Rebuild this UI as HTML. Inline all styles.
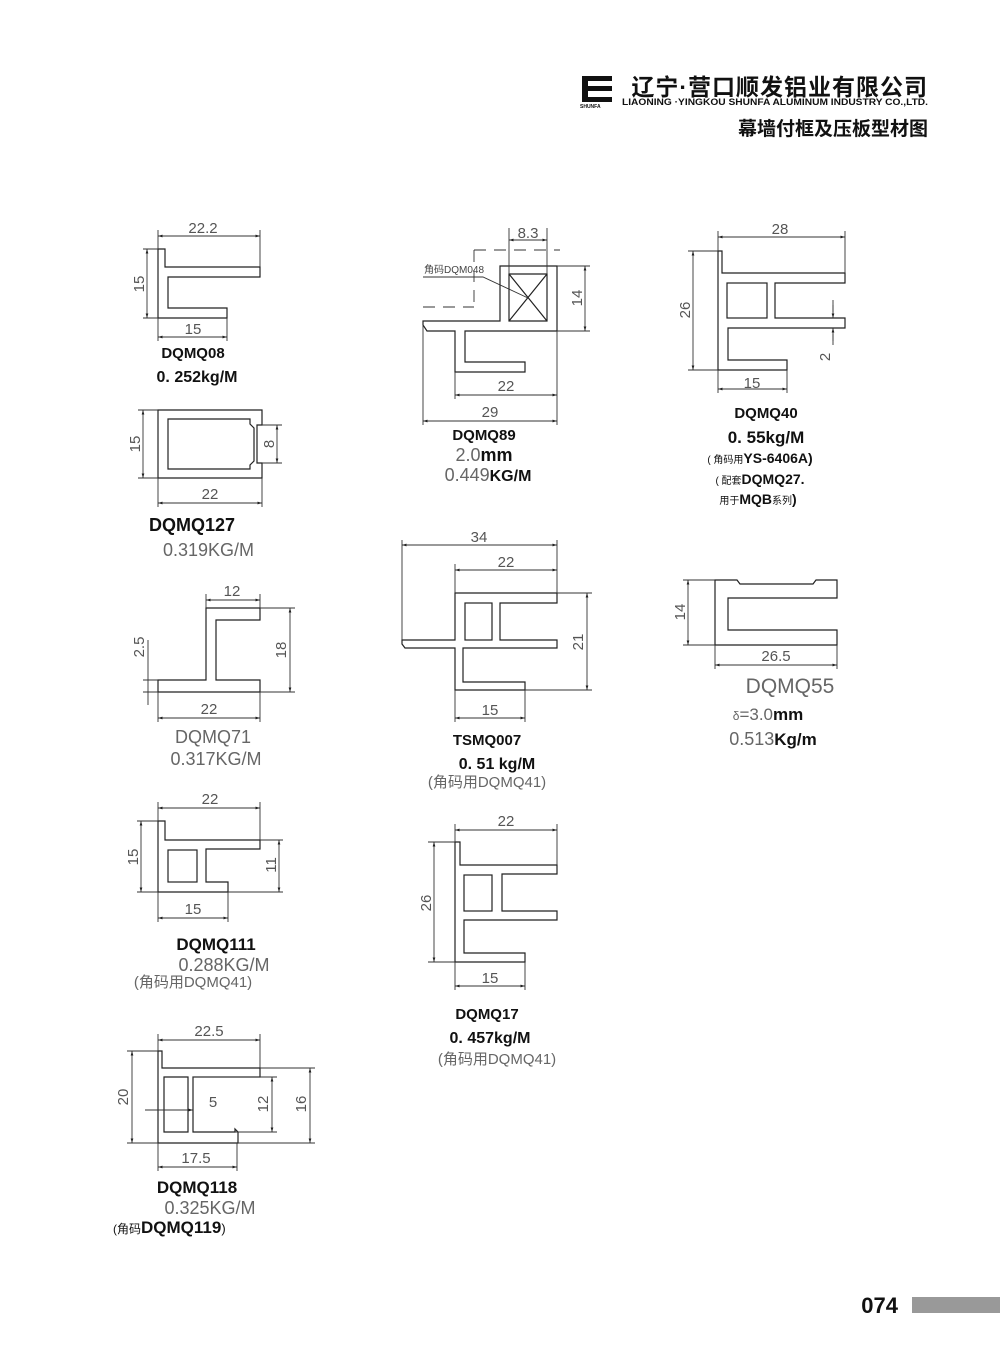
<!DOCTYPE html>
<html><head><meta charset="utf-8"><style>
html,body{margin:0;padding:0;background:#fff;}
svg{display:block;}
.p{fill:none;stroke:#222;stroke-width:1.2;}
.d{stroke:#333;stroke-width:0.9;fill:none;}
.n{font-family:"Liberation Sans",sans-serif;font-size:15px;fill:#555;text-anchor:middle;}
.b{font-family:"Liberation Sans","Noto Sans CJK SC",sans-serif;font-weight:bold;fill:#111;text-anchor:middle;}
.g{font-family:"Liberation Sans","Noto Sans CJK SC",sans-serif;fill:#666;text-anchor:middle;}
</style></head><body>
<svg width="1000" height="1366" viewBox="0 0 1000 1366" xmlns="http://www.w3.org/2000/svg">
<defs>
<marker id="a" viewBox="0 0 10 10" refX="10" refY="5" markerWidth="7" markerHeight="5" orient="auto-start-reverse"><path d="M0,2 L10,5 L0,8 Z" fill="#222"/></marker>
</defs>

<!-- header -->
<g fill="#111">
<rect x="582" y="76" width="30" height="5"/>
<rect x="582" y="76" width="6" height="26"/>
<rect x="588" y="86" width="24" height="5"/>
<rect x="582" y="97" width="30" height="5"/>
</g>
<text x="580" y="108" style="font-family:'Liberation Sans';font-size:5px;font-weight:bold;fill:#111">SHUNFA</text>
<text x="928" y="95" text-anchor="end" style="font-family:'Liberation Sans','Noto Sans CJK SC',sans-serif;font-size:23px;font-weight:bold;fill:#111;letter-spacing:1px">辽宁·营口顺发铝业有限公司</text>
<text x="928" y="105" text-anchor="end" textLength="306" lengthAdjust="spacingAndGlyphs" style="font-family:'Liberation Sans';font-size:9px;font-weight:bold;fill:#111">LIAONING ·YINGKOU SHUNFA ALUMINUM INDUSTRY CO.,LTD.</text>
<text x="928" y="135" text-anchor="end" style="font-family:'Liberation Sans','Noto Sans CJK SC',sans-serif;font-size:19px;font-weight:bold;fill:#111">幕墙付框及压板型材图</text>

<!-- DQMQ08 -->
<path class="p" d="M158,249 L165,249 L165,267 L260,267 L260,277 L168,277 L168,308 L227,308 L227,318 L158,318 Z"/>
<path class="d" d="M158,230 V249 M260,230 V267 M143,249 H158 M143,318 H158 M158,318 V341 M227,318 V341"/>
<line class="d" x1="158" y1="236" x2="260" y2="236" marker-start="url(#a)" marker-end="url(#a)"/>
<line class="d" x1="147" y1="249" x2="147" y2="318" marker-start="url(#a)" marker-end="url(#a)"/>
<line class="d" x1="158" y1="337" x2="227" y2="337" marker-start="url(#a)" marker-end="url(#a)"/>
<text class="n" x="203" y="233">22.2</text>
<text class="n" x="193" y="334">15</text>
<text class="n" transform="translate(144,284) rotate(-90)">15</text>
<text class="b" x="193" y="358" font-size="15">DQMQ08</text>
<text class="b" x="197" y="382" font-size="16">0. 252kg/M</text>

<!-- DQMQ127 -->
<path class="p" d="M158,410 L262,410 L262,425 L257,425 L257,463 L262,463 L262,478 L158,478 Z"/>
<path class="p" d="M168,419 L250,419 L250,424 L254,428 L254,461 L250,465 L250,469 L168,469 Z"/>
<path class="d" d="M138,410 H158 M138,478 H158 M158,478 V507 M262,478 V507 M262,425 H282 M262,463 H282"/>
<line class="d" x1="143" y1="410" x2="143" y2="478" marker-start="url(#a)" marker-end="url(#a)"/>
<line class="d" x1="158" y1="503" x2="262" y2="503" marker-start="url(#a)" marker-end="url(#a)"/>
<line class="d" x1="277" y1="425" x2="277" y2="463" marker-start="url(#a)" marker-end="url(#a)"/>
<text class="n" transform="translate(140,444) rotate(-90)">15</text>
<text class="n" transform="translate(274,444) rotate(-90)">8</text>
<text class="n" x="210" y="499">22</text>
<text class="b" x="149" y="531" font-size="18" text-anchor="start" style="text-anchor:start">DQMQ127</text>
<text class="g" x="163" y="556" font-size="18" style="text-anchor:start">0.319KG/M</text>

<!-- DQMQ71 -->
<path class="p" d="M158,680 L206,680 L206,608 L260,608 L260,620 L216,620 L216,680 L260,680 L260,692 L158,692 Z"/>
<path class="d" d="M206,594 V608 M260,594 V608 M260,608 H295 M260,692 H295 M143,680 H158 M143,692 H158 M158,692 V722 M260,692 V722 M148,640 V705"/>
<line class="d" x1="206" y1="600" x2="260" y2="600" marker-start="url(#a)" marker-end="url(#a)"/>
<line class="d" x1="290" y1="608" x2="290" y2="692" marker-start="url(#a)" marker-end="url(#a)"/>
<line class="d" x1="158" y1="718" x2="260" y2="718" marker-start="url(#a)" marker-end="url(#a)"/>
<text class="n" x="232" y="596">12</text>
<text class="n" transform="translate(286,650) rotate(-90)">18</text>
<text class="n" transform="translate(144,647) rotate(-90)">2.5</text>
<text class="n" x="209" y="714">22</text>
<text class="g" x="213" y="743" font-size="18">DQMQ71</text>
<text class="g" x="216" y="765" font-size="18">0.317KG/M</text>

<!-- DQMQ111 -->
<path class="p" d="M158,821 L165,821 L165,840 L260,840 L260,849 L206,849 L206,882 L228,882 L228,892 L158,892 Z"/>
<rect class="p" x="168" y="850" width="29" height="32"/>
<path class="d" d="M158,802 V821 M260,802 V840 M137,821 H158 M137,892 H158 M260,840 H283 M228,892 H283 M158,892 V922 M228,892 V922"/>
<line class="d" x1="158" y1="808" x2="260" y2="808" marker-start="url(#a)" marker-end="url(#a)"/>
<line class="d" x1="141" y1="821" x2="141" y2="892" marker-start="url(#a)" marker-end="url(#a)"/>
<line class="d" x1="279" y1="840" x2="279" y2="892" marker-start="url(#a)" marker-end="url(#a)"/>
<line class="d" x1="158" y1="918" x2="228" y2="918" marker-start="url(#a)" marker-end="url(#a)"/>
<text class="n" x="210" y="804">22</text>
<text class="n" transform="translate(138,857) rotate(-90)">15</text>
<text class="n" transform="translate(276,865) rotate(-90)">11</text>
<text class="n" x="193" y="914">15</text>
<text class="b" x="216" y="950" font-size="17">DQMQ111</text>
<text class="g" x="224" y="971" font-size="18">0.288KG/M</text>
<text class="g" x="193" y="987" font-size="15">(角码用DQMQ41)</text>

<!-- DQMQ118 -->
<path class="p" d="M158,1051 L162,1051 L162,1068 L260,1068 L260,1077 L193,1077 L193,1132 L235,1132 L235,1129 L238,1132 L238,1143 L158,1143 Z"/>
<path class="p" d="M164,1077 H188 V1132 H164 Z M188,1077 V1132"/>
<path class="d" d="M158,1034 V1051 M260,1034 V1068 M127,1051 H158 M127,1143 H158 M260,1068 H315 M193,1077 H277 M235,1132 H277 M238,1143 H315 M158,1143 V1171 M237,1143 V1171"/>
<line class="d" x1="158" y1="1040" x2="260" y2="1040" marker-start="url(#a)" marker-end="url(#a)"/>
<line class="d" x1="132" y1="1051" x2="132" y2="1143" marker-start="url(#a)" marker-end="url(#a)"/>
<line class="d" x1="145" y1="1110" x2="193" y2="1110" marker-end="url(#a)"/>
<line class="d" x1="272" y1="1077" x2="272" y2="1132" marker-start="url(#a)" marker-end="url(#a)"/>
<line class="d" x1="310" y1="1068" x2="310" y2="1143" marker-start="url(#a)" marker-end="url(#a)"/>
<line class="d" x1="158" y1="1167" x2="237" y2="1167" marker-start="url(#a)" marker-end="url(#a)"/>
<text class="n" x="209" y="1036">22.5</text>
<text class="n" transform="translate(128,1097) rotate(-90)">20</text>
<text class="n" x="213" y="1107">5</text>
<text class="n" transform="translate(268,1104) rotate(-90)">12</text>
<text class="n" transform="translate(306,1104) rotate(-90)">16</text>
<text class="n" x="196" y="1163">17.5</text>
<text class="b" x="197" y="1193" font-size="17">DQMQ118</text>
<text class="g" x="210" y="1214" font-size="18">0.325KG/M</text>
<text class="b" x="113" y="1233" font-size="17" style="text-anchor:start"><tspan font-size="12" font-weight="normal">(角码</tspan>DQMQ119<tspan font-size="13" font-weight="normal">)</tspan></text>

<!-- DQMQ89 -->
<path class="d" stroke-dasharray="12,8" d="M474,250 H560 M474,250 V307 M423,307 H474"/>
<path class="p" d="M423,321 L500,321 L500,266 L557,266 L557,331 L465,331 L465,362 L525,362 L525,372 L455,372 L455,331 L427,331 L423,325 Z"/>
<path class="p" d="M509,274 H547 V321 H509 Z M509,274 L547,321 M547,274 L509,321"/>
<path class="d" d="M509,228 V274 M547,228 V274 M557,266 H590 M557,331 H590 M455,372 V399 M557,331 V425 M423,325 V425 M423,277 H483 L528,298"/>
<line class="d" x1="509" y1="240" x2="547" y2="240" marker-start="url(#a)" marker-end="url(#a)"/>
<line class="d" x1="585" y1="266" x2="585" y2="331" marker-start="url(#a)" marker-end="url(#a)"/>
<line class="d" x1="455" y1="395" x2="557" y2="395" marker-start="url(#a)" marker-end="url(#a)"/>
<line class="d" x1="423" y1="421" x2="557" y2="421" marker-start="url(#a)" marker-end="url(#a)"/>
<text class="n" x="528" y="238">8.3</text>
<text class="n" transform="translate(582,298) rotate(-90)">14</text>
<text class="n" x="506" y="391">22</text>
<text class="n" x="490" y="417">29</text>
<text x="424" y="273" style="font-family:'Liberation Sans','Noto Sans CJK SC',sans-serif;font-size:10px;fill:#444">角码DQM048</text>
<text class="b" x="484" y="440" font-size="15">DQMQ89</text>
<text class="g" x="484" y="461" font-size="18">2.0<tspan font-weight="bold" fill="#111">mm</tspan></text>
<text class="g" x="488" y="481" font-size="18">0.449<tspan font-weight="bold" fill="#111" font-size="16">KG/M</tspan></text>

<!-- DQMQ40 -->
<path class="p" d="M718,251 L722,251 L722,273 L845,273 L845,283 L775,283 L775,318 L845,318 L845,328 L728,328 L728,360 L787,360 L787,370 L718,370 Z"/>
<rect class="p" x="727" y="283" width="40" height="35"/>
<path class="d" d="M718,231 V251 M845,231 V273 M688,251 H718 M688,370 H718 M718,370 V393 M787,370 V393 M833,300 V312 M833,334 V345"/>
<line class="d" x1="718" y1="237" x2="845" y2="237" marker-start="url(#a)" marker-end="url(#a)"/>
<line class="d" x1="693" y1="251" x2="693" y2="370" marker-start="url(#a)" marker-end="url(#a)"/>
<line class="d" x1="718" y1="389" x2="787" y2="389" marker-start="url(#a)" marker-end="url(#a)"/>
<line class="d" x1="833" y1="305" x2="833" y2="318" marker-end="url(#a)"/>
<line class="d" x1="833" y1="341" x2="833" y2="328" marker-end="url(#a)"/>
<text class="n" x="780" y="234">28</text>
<text class="n" transform="translate(690,310) rotate(-90)">26</text>
<text class="n" x="752" y="388">15</text>
<text class="n" transform="translate(830,357) rotate(-90)">2</text>
<text class="b" x="766" y="418" font-size="15">DQMQ40</text>
<text class="b" x="766" y="443" font-size="17">0. 55kg/M</text>
<text class="b" x="760" y="463" font-size="14"><tspan font-size="10" font-weight="normal">( 角码用</tspan>YS-6406A)</text>
<text class="b" x="760" y="484" font-size="14"><tspan font-size="10" font-weight="normal">( 配套</tspan>DQMQ27.</text>
<text class="b" x="758" y="504" font-size="14"><tspan font-size="10" font-weight="normal">用于</tspan>MQB<tspan font-size="10" font-weight="normal">系列</tspan>)</text>

<!-- TSMQ007 -->
<path class="p" d="M455,593 L557,593 L557,603 L500,603 L500,640 L557,640 L557,648 L463,648 L463,682 L525,682 L525,690 L455,690 L455,648 L405,648 L402,644 L402,640 L455,640 Z"/>
<rect class="p" x="465" y="603" width="27" height="37"/>
<path class="d" d="M402,540 V640 M557,540 V593 M455,564 V593 M557,593 H592 M525,690 H592 M455,690 V722 M525,690 V722"/>
<line class="d" x1="402" y1="545" x2="557" y2="545" marker-start="url(#a)" marker-end="url(#a)"/>
<line class="d" x1="455" y1="570" x2="557" y2="570" marker-start="url(#a)" marker-end="url(#a)"/>
<line class="d" x1="587" y1="593" x2="587" y2="690" marker-start="url(#a)" marker-end="url(#a)"/>
<line class="d" x1="455" y1="718" x2="525" y2="718" marker-start="url(#a)" marker-end="url(#a)"/>
<text class="n" x="479" y="542">34</text>
<text class="n" x="506" y="567">22</text>
<text class="n" transform="translate(583,642) rotate(-90)">21</text>
<text class="n" x="490" y="715">15</text>
<text class="b" x="487" y="745" font-size="15">TSMQ007</text>
<text class="b" x="497" y="769" font-size="16">0. 51  kg/M</text>
<text class="g" x="487" y="787" font-size="15">(角码用DQMQ41)</text>

<!-- DQMQ17 -->
<path class="p" d="M455,842 L460,842 L460,865 L557,865 L557,874 L502,874 L502,911 L557,911 L557,920 L464,920 L464,953 L525,953 L525,962 L455,962 Z"/>
<rect class="p" x="464" y="875" width="28" height="36"/>
<path class="d" d="M455,824 V842 M557,824 V865 M428,842 H455 M428,962 H455 M455,962 V990 M525,962 V990"/>
<line class="d" x1="455" y1="830" x2="557" y2="830" marker-start="url(#a)" marker-end="url(#a)"/>
<line class="d" x1="434" y1="842" x2="434" y2="962" marker-start="url(#a)" marker-end="url(#a)"/>
<line class="d" x1="455" y1="986" x2="525" y2="986" marker-start="url(#a)" marker-end="url(#a)"/>
<text class="n" x="506" y="826">22</text>
<text class="n" transform="translate(431,903) rotate(-90)">26</text>
<text class="n" x="490" y="983">15</text>
<text class="b" x="487" y="1019" font-size="15">DQMQ17</text>
<text class="b" x="490" y="1043" font-size="16">0. 457kg/M</text>
<text class="g" x="497" y="1064" font-size="15">(角码用DQMQ41)</text>

<!-- DQMQ55 -->
<path class="p" d="M715,580 L737,580 L740,584 L813,584 L816,580 L837,580 L837,598 L728,598 L728,630 L837,630 L837,645 L715,645 Z"/>
<path class="d" d="M683,580 H715 M683,645 H715 M715,645 V669 M837,645 V669"/>
<line class="d" x1="688" y1="580" x2="688" y2="645" marker-start="url(#a)" marker-end="url(#a)"/>
<line class="d" x1="715" y1="665" x2="837" y2="665" marker-start="url(#a)" marker-end="url(#a)"/>
<text class="n" transform="translate(685,612) rotate(-90)">14</text>
<text class="n" x="776" y="661">26.5</text>
<text class="g" x="790" y="693" font-size="21">DQMQ55</text>
<text class="g" x="768" y="720" font-size="17"><tspan font-size="12">δ</tspan>=3.0<tspan font-weight="bold" fill="#111">mm</tspan></text>
<text class="g" x="773" y="745" font-size="18">0.513<tspan font-weight="bold" fill="#111" font-size="17">Kg/m</tspan></text>

<!-- footer -->
<text x="898" y="1313" text-anchor="end" style="font-family:'Liberation Sans';font-size:22px;font-weight:bold;fill:#111">074</text>
<rect x="912" y="1297" width="88" height="16" fill="#999"/>
</svg>
</body></html>
